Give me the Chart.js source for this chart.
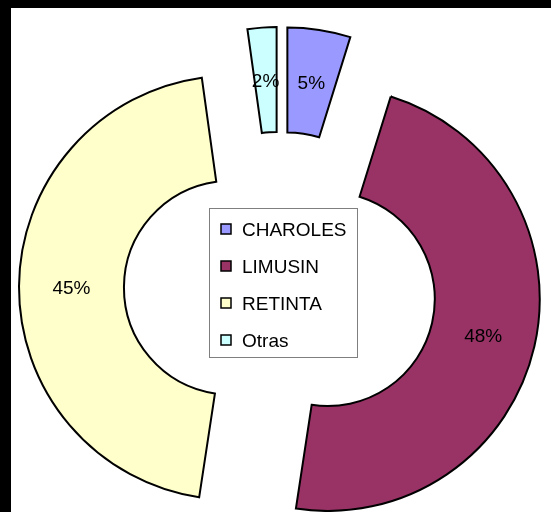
<!DOCTYPE html>
<html>
<head>
<meta charset="utf-8">
<script src="https://cdn.jsdelivr.net/npm/chart.js@4/dist/chart.umd.min.js"></script>
<style>
  html, body { margin:0; padding:0; background:#000; width:551px; height:512px; overflow:hidden; }
  #wrap { position:absolute; left:11px; top:8px; width:540px; height:504px; background:#fff; }
</style>
</head>
<body>
<div id="wrap"><canvas id="chartRazas"></canvas></div>
<script>
// datos
const categories = ['CHAROLES', 'LIMUSIN', 'RETINTA', 'Otras'];
const shares = [4.8, 47.6, 45.4, 2.2];
const sliceColors = ['#9999FF', '#993366', '#FFFFCC', '#CCFFFF'];

const FONT = '"Liberation Sans", Arial, sans-serif';

/* -------------------------------------------
   PLUGINS
-------------------------------------------- */
// separa cada sector de su centro (doughnut "explotado")
const explodePlugin = {
  id: 'explode',
  afterDatasetUpdate(chart, args, opts) {
    args.meta.data.forEach(arc => {
      const mid = (arc.startAngle + arc.endAngle) / 2;
      arc.x += Math.cos(mid) * opts.distance;
      arc.y += Math.sin(mid) * opts.distance;
    });
  }
};

// porcentajes dentro de cada sector
const pctLabels = {
  id: 'pctLabels',
  afterDatasetsDraw(chart) {
    const ctx = chart.ctx;
    const values = chart.data.datasets[0].data;
    const total = values.reduce((a, b) => a + b, 0);
    ctx.save();
    ctx.font = '19px ' + FONT;
    ctx.fillStyle = '#000';
    ctx.textAlign = 'center';
    ctx.textBaseline = 'alphabetic';
    chart.getDatasetMeta(0).data.forEach((arc, i) => {
      const p = arc.getCenterPoint();
      ctx.fillText(Math.round(values[i] / total * 100) + '%', p.x, p.y + 7);
    });
    ctx.restore();
  }
};

// leyenda con recuadro, como la de Excel
const boxLegend = {
  id: 'boxLegend',
  afterDraw(chart, args, o) {
    const ctx = chart.ctx;
    const colors = chart.data.datasets[0].backgroundColor;
    ctx.save();
    ctx.fillStyle = '#fff';
    ctx.fillRect(o.left, o.top, o.width, o.height);
    ctx.strokeStyle = '#7f7f7f';
    ctx.lineWidth = 1;
    ctx.strokeRect(o.left + 0.5, o.top + 0.5, o.width, o.height);

    ctx.font = '19px ' + FONT;
    ctx.textAlign = 'left';
    ctx.textBaseline = 'alphabetic';
    chart.data.labels.forEach((lbl, i) => {
      const cy = o.top + o.firstRow + i * o.rowStep;
      ctx.fillStyle = colors[i];
      ctx.fillRect(o.left + 12, cy - 5, 10, 10);
      ctx.strokeStyle = '#000';
      ctx.lineWidth = 1.5;
      ctx.strokeRect(o.left + 12, cy - 5, 10, 10);
      ctx.fillStyle = '#000';
      ctx.fillText(lbl, o.left + 33, cy + 7);
    });
    ctx.restore();
  }
};

/* -------------------------------------------
   CHART
-------------------------------------------- */
const ctxR = document.getElementById('chartRazas').getContext('2d');
new Chart(ctxR, {
  type: 'doughnut',
  data: {
    labels: categories,
    datasets: [{
      data: shares,
      backgroundColor: sliceColors,
      borderColor: '#000',
      borderWidth: 2,
      borderJoinStyle: 'miter',
      clip: false
    }]
  },
  options: {
    responsive: true,
    maintainAspectRatio: false,
    animation: false,
    events: [],
    radius: 212,
    cutout: '50.5%',
    layout: { padding: { top: 56, left: 0, right: 2, bottom: 0 } },
    plugins: {
      legend: { display: false },
      tooltip: { enabled: false },
      explode: { distance: 49 },
      boxLegend: { left: 198, top: 200, width: 148, height: 149, firstRow: 21, rowStep: 37 }
    }
  },
  plugins: [explodePlugin, pctLabels, boxLegend]
});
</script>
</body>
</html>
